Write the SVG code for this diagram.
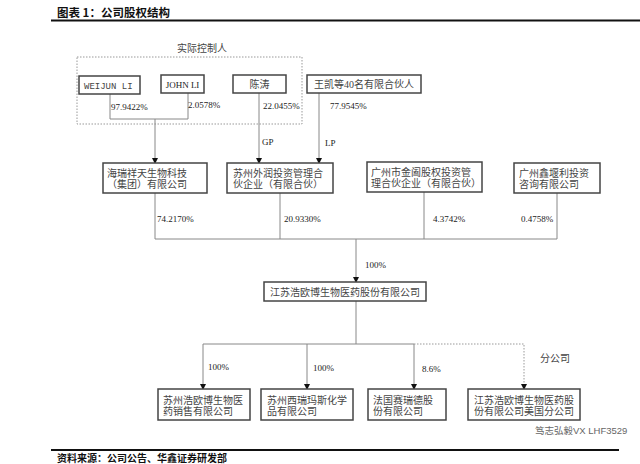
<svg xmlns="http://www.w3.org/2000/svg" width="640" height="464" viewBox="0 0 640 464">
<defs>
<marker id="arr" markerWidth="6" markerHeight="6" refX="5" refY="3" orient="auto" markerUnits="userSpaceOnUse">
<path d="M0,0 L6,3 L0,6 Z" fill="#111"/>
</marker>
<style>
.box{fill:#fff;stroke:#444;stroke-width:1.5}
.t{font-family:"Liberation Serif","Noto Sans CJK SC",serif;font-size:10px;fill:#444}
.p{font-family:"Liberation Serif","Noto Sans CJK SC",serif;font-size:9px;fill:#222}
.c{fill:none;stroke:#888;stroke-width:1}
.d{fill:none;stroke:#999;stroke-width:1;stroke-dasharray:1.5,1.5}
.h{font-family:"Noto Sans CJK SC","Liberation Sans",sans-serif;font-weight:bold;fill:#111}
</style>
</defs>
<rect width="640" height="464" fill="#fff"/>
<text class="h" x="57" y="17" font-size="11.5">图表 1：公司股权结构</text>
<line x1="51" y1="20.5" x2="640" y2="20.5" stroke="#111" stroke-width="2"/>

<g id="controller-group">
<rect x="77" y="57" width="225" height="67" class="d"/>
<text class="t" x="202" y="52" text-anchor="middle" font-size="10.5">实际控制人</text>
</g>

<g id="connectors">
<polyline class="c" points="110,94 110,119 188,119 188,93"/>
<line class="c" x1="155" y1="119" x2="155" y2="163" marker-end="url(#arr)"/>
<line class="c" x1="259" y1="93" x2="259" y2="163" marker-end="url(#arr)"/>
<line class="c" x1="319" y1="93" x2="319" y2="163" marker-end="url(#arr)"/>
<polyline class="c" points="155,193 155,239 557,239 557,193"/>
<line class="c" x1="280" y1="193" x2="280" y2="239"/>
<line class="c" x1="424" y1="192" x2="424" y2="239"/>
<line class="c" x1="356" y1="239" x2="356" y2="282" marker-end="url(#arr)"/>
<line class="c" x1="356" y1="301" x2="356" y2="344"/>
<line class="c" x1="203" y1="344" x2="414" y2="344"/>
<line class="c" x1="203" y1="344" x2="203" y2="389" marker-end="url(#arr)"/>
<line class="c" x1="307" y1="344" x2="307" y2="389" marker-end="url(#arr)"/>
<line class="c" x1="414" y1="344" x2="414" y2="389" marker-end="url(#arr)"/>
<polyline class="d" points="414,344 524,344 524,389" marker-end="url(#arr)"/>
<text class="p" x="111" y="110">97.9422%</text>
<text class="p" x="188" y="108">2.0578%</text>
<text class="p" x="263" y="109">22.0455%</text>
<text class="p" x="330" y="109">77.9545%</text>
<text class="p" x="262" y="145">GP</text>
<text class="p" x="325" y="146">LP</text>
<text class="p" x="157" y="222">74.2170%</text>
<text class="p" x="284" y="222">20.9330%</text>
<text class="p" x="433" y="222">4.3742%</text>
<text class="p" x="521" y="222">0.4758%</text>
<text class="p" x="365" y="268">100%</text>
<text class="p" x="208" y="370">100%</text>
<text class="p" x="313" y="371">100%</text>
<text class="p" x="422" y="372">8.6%</text>
<text class="t" x="540" y="362">分公司</text>
</g>

<g id="weijun-li">
<rect x="79" y="76" width="61" height="18" class="box"/>
<text x="84" y="89" font-family="Liberation Mono,monospace" font-size="9" fill="#444">WEIJUN LI</text>
</g>
<g id="john-li">
<rect x="161" y="75" width="43" height="18" class="box"/>
<text class="p" x="182.5" y="88" text-anchor="middle" font-size="9.5" fill="#333">JOHN LI</text>
</g>
<g id="chen-tao">
<rect x="233" y="75" width="53" height="18" class="box"/>
<text class="t" x="259.5" y="88" text-anchor="middle">陈涛</text>
</g>
<g id="wang-kai">
<rect x="307" y="75" width="114" height="18" class="box"/>
<text class="t" x="364" y="88" text-anchor="middle">王凯等40名有限合伙人</text>
</g>

<g id="hairui">
<rect x="103" y="163" width="104" height="30" class="box"/>
<text class="t" x="107" y="177">海瑞祥天生物科技</text>
<text class="t" x="107" y="188">（集团）有限公司</text>
</g>
<g id="suzhou-wairun">
<rect x="227" y="163" width="106" height="30" class="box"/>
<text class="t" x="233" y="177">苏州外润投资管理合</text>
<text class="t" x="233" y="188">伙企业（有限合伙）</text>
</g>
<g id="guangzhou-jinhe">
<rect x="367" y="162" width="115" height="30" class="box"/>
<text class="t" x="371" y="176">广州市金阖股权投资管</text>
<text class="t" x="371" y="187">理合伙企业（有限合伙）</text>
</g>
<g id="guangzhou-xinyan">
<rect x="514" y="163" width="86" height="30" class="box"/>
<text class="t" x="519" y="177">广州鑫堰利投资</text>
<text class="t" x="519" y="188">咨询有限公司</text>
</g>

<g id="jiangsu-haoou">
<rect x="264" y="282" width="162" height="19" class="box"/>
<text class="t" x="270" y="295.5" font-size="10.2">江苏浩欧博生物医药股份有限公司</text>
</g>

<g id="sub-sales">
<rect x="158" y="389" width="92" height="31" class="box"/>
<text class="t" x="163" y="404">苏州浩欧博生物医</text>
<text class="t" x="163" y="415">药销售有限公司</text>
</g>
<g id="sub-xirui">
<rect x="261" y="389" width="92" height="31" class="box"/>
<text class="t" x="267" y="404">苏州西瑞玛斯化学</text>
<text class="t" x="267" y="415">品有限公司</text>
</g>
<g id="sub-france">
<rect x="368" y="389" width="78" height="31" class="box"/>
<text class="t" x="373" y="404">法国赛瑞德股</text>
<text class="t" x="373" y="415">份有限公司</text>
</g>
<g id="sub-us">
<rect x="468" y="389" width="112" height="31" class="box"/>
<text class="t" x="474" y="404">江苏浩欧博生物医药股</text>
<text class="t" x="474" y="415">份有限公司美国分公司</text>
</g>

<text x="535" y="434" font-family="Liberation Sans,Noto Sans CJK SC,sans-serif" font-size="9.5" fill="#666">笃志弘毅VX  LHF3529</text>
<line x1="51" y1="450" x2="619" y2="450" stroke="#111" stroke-width="2"/>
<text class="h" x="57" y="462" font-size="10">资料来源：公司公告、华鑫证券研发部</text>
</svg>
